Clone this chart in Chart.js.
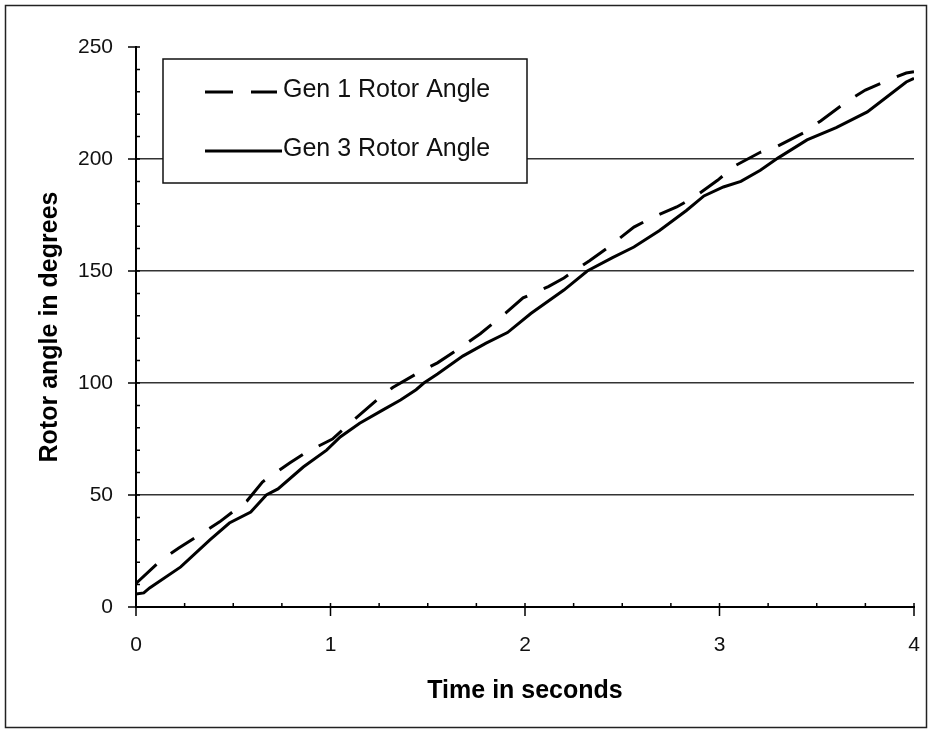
<!DOCTYPE html>
<html>
<head>
<meta charset="utf-8">
<title>Rotor angle</title>
<script src="https://cdn.jsdelivr.net/npm/chart.js@4/dist/chart.umd.min.js"></script>
<style>
  html, body { margin: 0; padding: 0; background: #fff; }
  canvas { display: block; }
</style>
</head>
<body>
<canvas id="chart" width="932" height="732"></canvas>
<script>
// Generator rotor angles (degrees) against time (seconds)
const gen1Time  = [0.00, 0.13, 0.22, 0.34, 0.43, 0.57, 0.65, 0.79, 0.87, 1.01, 1.10, 1.23, 1.32, 1.45, 1.55, 1.68, 1.77, 1.90, 1.99, 2.12, 2.20, 2.33, 2.43, 2.56, 2.65, 2.78, 2.87, 2.99, 3.08, 3.21, 3.30, 3.43, 3.52, 3.66, 3.75, 3.88, 3.96, 4.00];
const gen1Angle = [10.5, 21, 26.3, 33, 38, 47.3, 55.8, 64.3, 68.8, 75, 82, 91.8, 98, 104.5, 109, 116.5, 122, 131.2, 138, 143, 146.9, 154.5, 160.7, 169.6, 173.7, 178.6, 183, 190.5, 197, 203, 205.8, 211.6, 217, 226, 230.8, 235.7, 238.4, 239];

const gen3Time  = [0.00, 0.04, 0.07, 0.23, 0.38, 0.48, 0.59, 0.67, 0.73, 0.86, 0.98, 1.05, 1.15, 1.27, 1.36, 1.44, 1.48, 1.55, 1.68, 1.80, 1.91, 2.03, 2.20, 2.32, 2.45, 2.56, 2.69, 2.83, 2.92, 3.02, 3.11, 3.21, 3.30, 3.45, 3.60, 3.76, 3.86, 3.96, 4.00];
const gen3Angle = [5.8, 6.3, 8.5, 17.9, 30, 37.5, 42.4, 50, 52.7, 62.5, 70, 75.9, 82, 88, 92.4, 97, 100, 104, 112, 117.8, 122.5, 131, 141.5, 150, 156, 160.7, 168, 177, 183.5, 187.5, 190, 195, 200.4, 208.5, 214, 221, 227.7, 234.4, 236];

const seriesNames = ['Gen 1 Rotor Angle', 'Gen 3 Rotor Angle'];
const xTickValues = [0, 1, 2, 3, 4];
const yTickValues = [0, 50, 100, 150, 200, 250];
const xMinorStep = 0.25;
const yMinorStep = 10;

const FONT = "'Liberation Sans', Arial, Helvetica, sans-serif";

function toPoints(ts, vs) {
  return ts.map((t, i) => ({ x: t, y: vs[i] }));
}

// White page with a thin frame round it
const pageFrame = {
  id: 'pageFrame',
  beforeDraw(chart) {
    const { ctx, width, height } = chart;
    ctx.save();
    ctx.fillStyle = '#fff';
    ctx.fillRect(0, 0, width, height);
    ctx.restore();
  },
  afterDraw(chart) {
    const { ctx, width, height } = chart;
    ctx.save();
    ctx.strokeStyle = '#222';
    ctx.lineWidth = 1.5;
    ctx.strokeRect(5.5, 5.5, width - 11, height - 10);
    ctx.restore();
  }
};

// Major and minor tick marks on both axes
const axisMarks = {
  id: 'axisMarks',
  afterDraw(chart) {
    const { ctx, chartArea: a, scales: { x, y } } = chart;
    ctx.save();
    ctx.strokeStyle = '#000';
    ctx.lineWidth = 1.5;
    ctx.beginPath();
    const nx = Math.round((x.max - x.min) / xMinorStep);
    for (let i = 0; i <= nx; i++) {
      const v = x.min + i * xMinorStep;
      const px = x.getPixelForValue(v);
      const major = xTickValues.includes(+v.toFixed(6));
      ctx.moveTo(px, a.bottom - 4);
      ctx.lineTo(px, major ? a.bottom + 9 : a.bottom);
    }
    const ny = Math.round((y.max - y.min) / yMinorStep);
    for (let i = 0; i <= ny; i++) {
      const v = y.min + i * yMinorStep;
      const py = y.getPixelForValue(v);
      const major = yTickValues.includes(v);
      ctx.moveTo(major ? a.left - 8 : a.left, py);
      ctx.lineTo(a.left + 4, py);
    }
    ctx.stroke();
    ctx.restore();
  }
};

// Boxed legend in the upper left of the plot
const boxLegend = {
  id: 'boxLegend',
  afterDatasetsDraw(chart) {
    const { ctx } = chart;
    const box = { x: 163, y: 59, w: 364, h: 124 };
    ctx.save();
    ctx.fillStyle = '#fff';
    ctx.fillRect(box.x, box.y, box.w, box.h);
    ctx.strokeStyle = '#111';
    ctx.lineWidth = 1.5;
    ctx.strokeRect(box.x, box.y, box.w, box.h);
    const rows = [92, 151];
    chart.data.datasets.forEach((ds, i) => {
      const ly = rows[i];
      ctx.strokeStyle = ds.borderColor;
      ctx.lineWidth = 3;
      ctx.setLineDash(ds.borderDash || []);
      ctx.beginPath();
      ctx.moveTo(205, ly);
      ctx.lineTo(ds.borderDash ? 277 : 282, ly);
      ctx.stroke();
      ctx.setLineDash([]);
      ctx.fillStyle = '#111';
      ctx.font = "25px " + FONT;
      ctx.textBaseline = 'alphabetic';
      ctx.textAlign = 'left';
      ctx.fillText(ds.label, 283, ly + 5);
    });
    ctx.restore();
  }
};

new Chart(document.getElementById('chart'), {
  type: 'line',
  data: {
    datasets: [
      {
        label: seriesNames[0],
        data: toPoints(gen1Time, gen1Angle),
        borderColor: '#000',
        borderWidth: 3,
        borderDash: [28, 18],
        pointRadius: 0,
        tension: 0,
        fill: false
      },
      {
        label: seriesNames[1],
        data: toPoints(gen3Time, gen3Angle),
        borderColor: '#000',
        borderWidth: 3,
        pointRadius: 0,
        tension: 0,
        fill: false
      }
    ]
  },
  options: {
    responsive: false,
    animation: false,
    devicePixelRatio: 1,
    layout: { padding: { top: 47, right: 18, bottom: 0, left: 0 } },
    plugins: {
      legend: { display: false },
      tooltip: { enabled: false }
    },
    scales: {
      x: {
        type: 'linear',
        min: 0,
        max: 4,
        afterBuildTicks(scale) { scale.ticks = xTickValues.map(v => ({ value: v })); },
        afterFit(scale) { scale.height = 125; },
        ticks: {
          color: '#111',
          font: { family: FONT, size: 21 },
          padding: 0,
          maxRotation: 0
        },
        // tick marks are drawn by axisMarks; tickLength only spaces the labels
        grid: { display: false, drawTicks: true, tickLength: 26 },
        border: { display: true, color: '#000', width: 2 },
        title: {
          display: true,
          text: 'Time in seconds',
          color: '#000',
          font: { family: FONT, size: 25, weight: 'bold' },
          padding: { top: 0, bottom: 26 }
        }
      },
      y: {
        type: 'linear',
        min: 0,
        max: 250,
        afterBuildTicks(scale) { scale.ticks = yTickValues.map(v => ({ value: v })); },
        afterFit(scale) { scale.width = 136; },
        ticks: {
          color: '#111',
          font: { family: FONT, size: 21 },
          padding: 23
        },
        grid: {
          drawTicks: false,
          lineWidth: 1.5,
          color: ctx => (ctx.tick && (ctx.tick.value === 0 || ctx.tick.value === 250)) ? 'rgba(0,0,0,0)' : '#333'
        },
        border: { display: true, color: '#000', width: 2 },
        title: {
          display: true,
          text: 'Rotor angle in degrees',
          color: '#000',
          font: { family: FONT, size: 25, weight: 'bold' },
          padding: { top: 35, bottom: 0 }
        }
      }
    }
  },
  plugins: [pageFrame, axisMarks, boxLegend]
});
</script>
</body>
</html>
